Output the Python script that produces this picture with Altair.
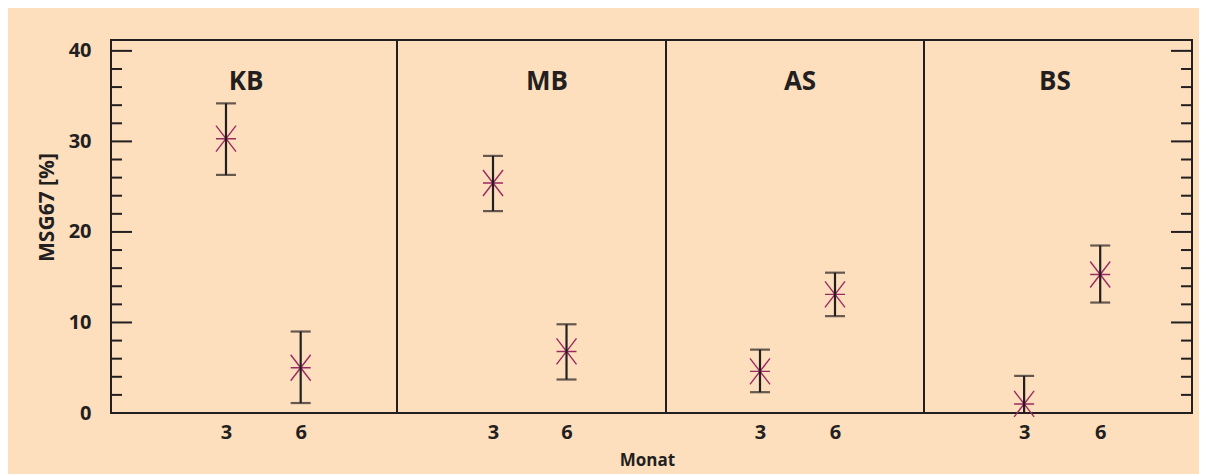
import altair as alt
import pandas as pd

groups = ["KB", "MB", "AS", "BS"]
month = [3, 6, 3, 6, 3, 6, 3, 6]
group = ["KB", "KB", "MB", "MB", "AS", "AS", "BS", "BS"]
mean = [30.3, 5.0, 25.4, 6.8, 4.6, 13.1, 1.0, 15.3]
low = [26.3, 1.1, 22.3, 3.7, 2.3, 10.7, -2.0, 12.2]
high = [34.2, 9.0, 28.4, 9.8, 7.0, 15.5, 4.1, 18.5]

y_labels = [0, 10, 20, 30, 40]
major_ticks = [0, 10, 20, 30, 40]
minor_ticks = [2, 4, 6, 8, 12, 14, 16, 18, 22, 24, 26, 28, 32, 34, 36, 38]
x_labels = [3, 6]

df = pd.DataFrame({"group": group, "month": month, "mean": mean, "low": low, "high": high})

FONT = "Open Sans"
INK = "#231F20"
BG = "#FDDFBE"
STAR = "#9B2A62"
H = 373
Y_DOMAIN = [0, 41.2]

panel_cfg = {
    "KB": dict(width=286, xdom=[-1.618, 9.868], tx=135),
    "MB": dict(width=269, xdom=[-0.918, 10.06], tx=150),
    "AS": dict(width=258, xdom=[-0.76, 9.56], tx=134),
    "BS": dict(width=268, xdom=[-0.948, 9.62], tx=131),
}

star_path = "M-0.77,0L0.77,0M-0.77,-1L0.77,1M-0.77,1L0.77,-1"


def panel(name, i):
    cfg = panel_cfg[name]
    w = cfg["width"]
    sub = df[df["group"] == name]
    xs = alt.Scale(domain=cfg["xdom"], nice=False, zero=False)
    ys = alt.Scale(domain=Y_DOMAIN, nice=False, zero=False)
    if i == 0:
        yaxis = alt.Axis(values=y_labels, ticks=False, domain=False, grid=False,
                         labelFont=FONT, labelFontSize=20, labelFontWeight="bold",
                         labelColor=INK, labelPadding=20,
                         title="MSG67 [%]", titleFont=FONT, titleFontSize=21,
                         titleFontWeight="bold", titleColor=INK,
                         titleX=-64, titleY=167, titleAlign="center",
                         titleBaseline="middle", titleAngle=270)
    else:
        yaxis = None
    xaxis = alt.Axis(values=x_labels, ticks=False, domain=False, grid=False,
                     labelFont=FONT, labelFontSize=20, labelFontWeight="bold",
                     labelColor=INK, labelPadding=9, title=None)
    base = alt.Chart(sub)
    stars = base.mark_point(shape=star_path, size=676, filled=False,
                            strokeWidth=1.4, color=STAR, opacity=1).encode(
        x=alt.X("month:Q", scale=xs, axis=xaxis),
        y=alt.Y("mean:Q", scale=ys, axis=yaxis),
    )
    bars = base.mark_rule(color=INK, strokeWidth=2.2, clip=True).encode(
        x=alt.X("month:Q", scale=xs), y=alt.Y("low:Q", scale=ys), y2="high:Q"
    )
    cap_hi = base.mark_tick(color=INK, thickness=2.2, size=20, orient="horizontal",
                            clip=True).encode(
        x=alt.X("month:Q", scale=xs), y=alt.Y("high:Q", scale=ys)
    )
    cap_lo = base.mark_tick(color=INK, thickness=2.2, size=20, orient="horizontal",
                            clip=True).encode(
        x=alt.X("month:Q", scale=xs), y=alt.Y("low:Q", scale=ys)
    )
    title = alt.Chart(pd.DataFrame({"g": [name]})).mark_text(
        font=FONT, fontSize=26, fontWeight="bold", color=INK,
        align="center", baseline="alphabetic").encode(
        x=alt.value(cfg["tx"]), y=alt.value(50), text="g:N"
    )
    layers = [stars, bars, cap_hi, cap_lo, title]
    if i == 0 or i == 3:
        edge = 0 if i == 0 else w
        sgn = 1 if i == 0 else -1
        maj = alt.Chart(pd.DataFrame({"v": major_ticks})).mark_rule(
            color=INK, strokeWidth=2).encode(
            y=alt.Y("v:Q", scale=ys), x=alt.value(edge), x2=alt.value(edge + sgn * 21))
        mnr = alt.Chart(pd.DataFrame({"v": minor_ticks})).mark_rule(
            color=INK, strokeWidth=2).encode(
            y=alt.Y("v:Q", scale=ys), x=alt.value(edge), x2=alt.value(edge + sgn * 11))
        layers += [maj, mnr]
    return alt.layer(*layers).properties(width=w, height=H)


chart = alt.hconcat(*[panel(g, i) for i, g in enumerate(groups)], spacing=0,
                    bounds="flush").properties(
    title=alt.TitleParams("Monat", orient="bottom", anchor="middle", font=FONT,
                          fontSize=17, fontWeight="bold", color=INK, offset=10, dx=33),
    background=BG,
    padding={"left": 27, "top": 31, "right": 5, "bottom": 5},
).configure_view(stroke=INK, strokeWidth=2, fill=None)

chart.save("out.html", embed_options={"renderer": "svg", "actions": False})
